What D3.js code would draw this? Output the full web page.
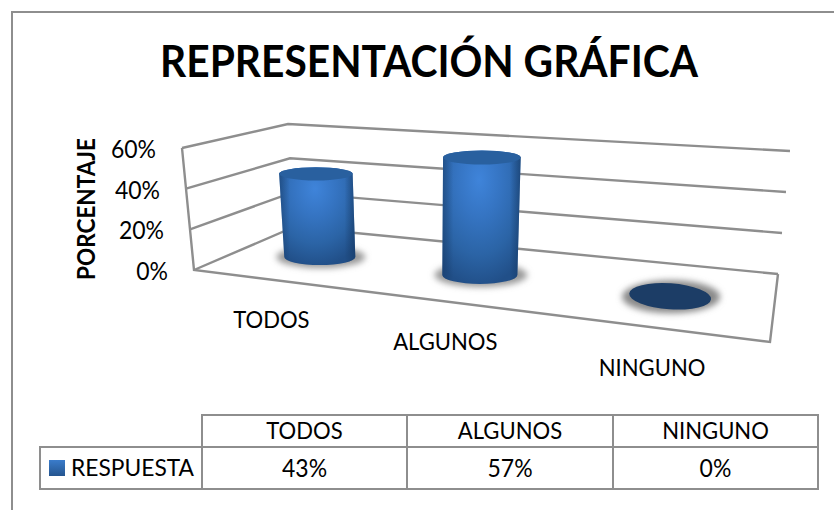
<!DOCTYPE html>
<html><head><meta charset="utf-8">
<script src="https://cdn.jsdelivr.net/npm/d3@7"></script>
<style>html,body{margin:0;padding:0;background:#fff}svg{display:block}text{font-family:Lato,"Open Sans",sans-serif;fill:#000}</style>
</head><body><svg id="c" width="834" height="510"></svg>
<script>
const categories = ["TODOS", "ALGUNOS", "NINGUNO"];
const values = [43, 57, 0];
const valueLabels = ["43%", "57%", "0%"];
const yTicks = [0, 20, 40, 60];
const seriesName = "RESPUESTA";
const titleText = "REPRESENTACIÓN GRÁFICA";
const yTitle = "PORCENTAJE";

const svg = d3.select("#c");
const grey = "#8e8e8e";
const defs = svg.append("defs");

// Text helper: slightly condensed glyphs
const label = (x,y,str,size,anchor="middle",weight=400,sx=0.92,rot=0)=>
  svg.append("text").attr("transform",`translate(${x},${y}) rotate(${rot}) scale(${sx},1)`)
    .attr("text-anchor",anchor).attr("font-size",size).attr("font-weight",weight).text(str);

// Projection box of the 3D plot: floor and ceiling corners
const box = {
  floor: {FL:[194,270], FR:[770,342], BL:[294,227], BR:[778,274]},
  ceil:  {FL:[182,148], FR:[790,190], BL:[288,124], BR:[790,151]}
};
const lerp = (a,b,t)=>[a[0]+(b[0]-a[0])*t, a[1]+(b[1]-a[1])*t];
const quad = (q,u,v)=>lerp(lerp(q.FL,q.FR,u), lerp(q.BL,q.BR,u), v);
const hScale = d3.scaleLinear().domain([0,60]).range([0,1]);
const project = (u,v,val)=>lerp(quad(box.floor,u,v), quad(box.ceil,u,v), hScale(val));

// perspective-compressed category positions along the width
const uScale = d3.scaleOrdinal().domain(categories).range([0.143,0.445,0.804]);
const rxScale = d3.scaleLinear().domain([0.143,0.445,0.804]).range([35.5,37.5,41]);
const ryScale = d3.scaleLinear().domain([0.143,0.445,0.804]).range([8,9,13]);
const midDepth = 0.5;

// Chart frame
const frame = d3.path();
frame.moveTo(12,510); frame.lineTo(12,12); frame.lineTo(834,12);
svg.append("path").attr("d",frame.toString()).attr("fill","none").attr("stroke",grey).attr("stroke-width",2);

label(429,77,titleText,43,"middle",700,0.947);

// Filters and gradients
const blur = defs.append("filter").attr("id","soft").attr("x","-30%").attr("y","-60%").attr("width","160%").attr("height","220%");
blur.append("feGaussianBlur").attr("stdDeviation",3);
const side = defs.append("radialGradient").attr("id","side").attr("cx",0.47).attr("cy",0.22).attr("r",0.8);
[[0,"#3f84da"],[0.35,"#3574c2"],[0.7,"#2b64a6"],[1,"#214f88"]].forEach(s=>side.append("stop").attr("offset",s[0]).attr("stop-color",s[1]));
const edge = defs.append("linearGradient").attr("id","edge");
[[0,"#163a66",0.55],[0.14,"#163a66",0],[0.86,"#163a66",0],[1,"#163a66",0.65]].forEach(s=>edge.append("stop").attr("offset",s[0]).attr("stop-color",s[1]).attr("stop-opacity",s[2]));
const sw = defs.append("linearGradient").attr("id","swatch").attr("x1",0).attr("x2",0).attr("y1",0).attr("y2",1);
[[0,"#3a7ccb"],[1,"#25558f"]].forEach(s=>sw.append("stop").attr("offset",s[0]).attr("stop-color",s[1]));

// Walls & gridlines
const gridG = svg.append("g").attr("fill","none").attr("stroke",grey).attr("stroke-width",2.4).attr("stroke-linejoin","miter");
const line = d3.line();
yTicks.forEach(t=>{
  gridG.append("path").attr("d",line([project(0,0,t),project(0,1,t),project(1,1,t)]));
});
gridG.append("path").attr("d",line([project(0,0,60),project(0,0,0),project(1,0,0),project(1,1,0)]));

// Y tick labels follow the front-left edge
yTicks.forEach(t=>{
  const p = project(0,0,t);
  label(p[0]-26,p[1]+10,t+"%",25,"end",400,0.92);
});
label(95,209,yTitle,24,"middle",700,0.94,-90);

// Cylinders
categories.forEach((c,i)=>{
  const u = uScale(c), val = values[i];
  const base = project(u,midDepth,0), top = project(u,midDepth,val);
  const rx = rxScale(u), ry = ryScale(u);
  svg.append("ellipse").attr("cx",base[0]+1).attr("cy",base[1]+(val>0?0:0.5))
    .attr("rx",rx+(val>0?9:8)).attr("ry",ry+(val>0?3:3.5)).attr("fill",val>0?"#999":"#8a8a8a").attr("filter","url(#soft)");
  if(val>0){
    const trx = rx*1.035, tryy = ry*(1-val*0.004);
    const d = `M${top[0]-trx},${top[1]} L${base[0]-rx},${base[1]} A${rx},${ry} 0 0 0 ${base[0]+rx},${base[1]} L${top[0]+trx},${top[1]} A${trx},${tryy} 0 0 0 ${top[0]-trx},${top[1]} Z`;
    svg.append("path").attr("d",d).attr("fill","url(#side)");
    svg.append("path").attr("d",d).attr("fill","url(#edge)");
    svg.append("ellipse").attr("cx",top[0]).attr("cy",top[1]).attr("rx",trx).attr("ry",tryy).attr("fill","#29609f");
  } else {
    svg.append("ellipse").attr("cx",base[0]).attr("cy",base[1]).attr("rx",rx).attr("ry",ry)
      .attr("fill","#1c3d66").attr("transform",`rotate(4 ${base[0]} ${base[1]})`);
  }
  const f = project(u,0,0);
  label(f[0]-5,f[1]+48,c,24);
});

// Data table
const colX = [40,202,407,613,818];
const rowY = [415,447,489];
const tbl = svg.append("g").attr("fill","none").attr("stroke",grey).attr("stroke-width",2);
const hl = (x1,x2,y)=>tbl.append("line").attr("x1",x1).attr("x2",x2).attr("y1",y).attr("y2",y);
const vl = (x,y1,y2)=>tbl.append("line").attr("x1",x).attr("x2",x).attr("y1",y1).attr("y2",y2);
hl(colX[1]-1,colX[4]+1,rowY[0]); hl(colX[0]-1,colX[4]+1,rowY[1]); hl(colX[0]-1,colX[4]+1,rowY[2]);
vl(colX[0],rowY[1],rowY[2]);
colX.slice(1).forEach(x=>vl(x,rowY[0],rowY[2]));
categories.forEach((c,i)=>{
  const cx=(colX[i+1]+colX[i+2])/2;
  label(cx,439,c,24);
  label(cx,477,valueLabels[i],25);
});
svg.append("rect").attr("x",49).attr("y",460).attr("width",16).attr("height",16).attr("fill","url(#swatch)");
label(71,476,seriesName,24,"start",400,0.95);
</script></body></html>
